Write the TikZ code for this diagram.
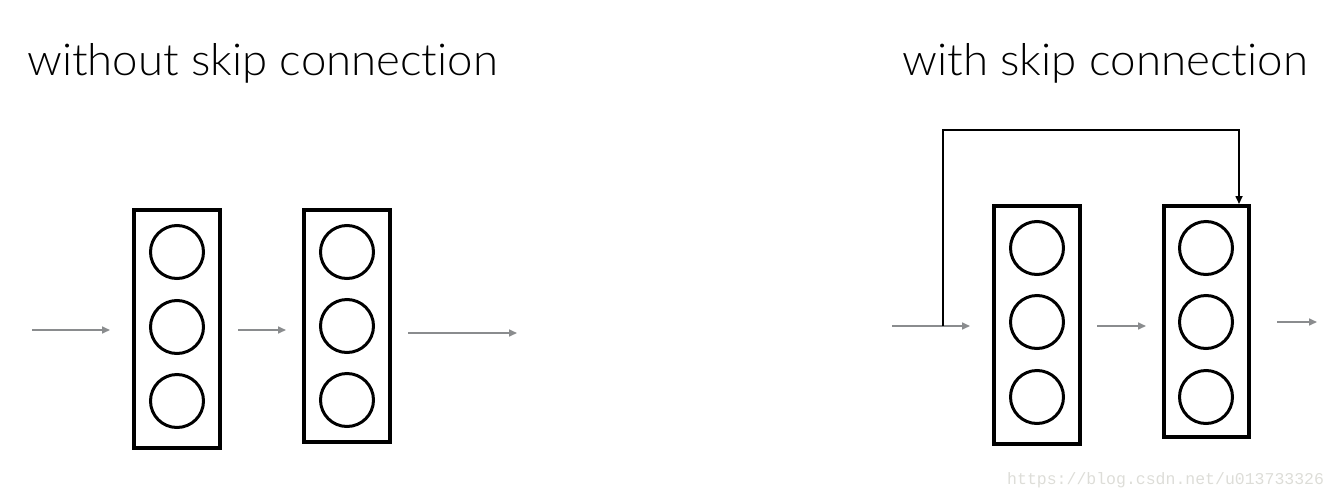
\documentclass[tikz,border=0pt]{standalone}
\usepackage{fontspec}
\setmainfont{Lato}[UprightFont=* Light, Ligatures=NoCommon]
\newfontfamily\wmfont{Liberation Mono}
\usetikzlibrary{arrows.meta}
\definecolor{arrgray}{HTML}{8A8C8E}
\definecolor{wmgray}{HTML}{DDDDD8}
\tikzset{
  layerbox/.style={draw=black, line width=4pt, minimum width=86pt, minimum height=238pt, inner sep=0pt},
  unit/.style={circle, draw=black, line width=3pt, minimum size=53pt, inner sep=0pt},
  flow/.style={draw=arrgray, line width=1.6pt, -{Triangle[length=8pt,width=7pt]}},
  skipline/.style={draw=black, line width=1.6pt, -{Triangle[length=8pt,width=7pt]}},
  title/.style={font=\fontsize{44}{44}\selectfont, anchor=base west, inner sep=0pt},
}
\begin{document}
\begin{tikzpicture}[x=1pt,y=-1pt]
\useasboundingbox (0,0) rectangle (1338,498);
% titles
\node[title] (t1) at (27,75) {\scalebox{1.035}[1]{without skip connection}};
\node[title] (t2) at (902,75) {\scalebox{1.038}[1]{with skip connection}};
% left network
\node[layerbox] (b1) at (177,329) {};
\node[layerbox, minimum height=232pt] (b2) at (347,326) {};
\node[unit] (c11) at (177,252) {};
\node[unit] (c12) at (177,327) {};
\node[unit] (c13) at (177,401) {};
\node[unit] (c21) at (347,252) {};
\node[unit] (c22) at (347,326) {};
\node[unit] (c23) at (347,400) {};
\coordinate (in1) at (32,330);
\coordinate (out1) at (517,333);
\draw[flow, shorten >=22pt] (in1) -- (in1 -| b1.west);
\draw[flow, shorten <=16pt, shorten >=16pt] (b1.east |- in1) -- (b2.west |- in1);
\draw[flow, shorten <=16pt] (b2.east |- out1) -- (out1);
% right network
\node[layerbox] (b3) at (1037,325) {};
\node[layerbox, minimum width=85pt, minimum height=231pt] (b4) at (1206.5,321.5) {};
\node[unit] (c31) at (1037,248) {};
\node[unit] (c32) at (1037,322) {};
\node[unit] (c33) at (1037,397) {};
\node[unit] (c41) at (1206,248) {};
\node[unit] (c42) at (1206,322) {};
\node[unit] (c43) at (1206,397) {};
\coordinate (in2) at (892,326);
\coordinate (fork) at (943,326);
\coordinate (top) at (1239,130);
\coordinate (out2) at (1317,322);
\draw[flow, shorten >=22pt] (in2) -- (in2 -| b3.west);
\draw[flow, shorten <=15pt, shorten >=16pt] (b3.east |- in2) -- (b4.west |- in2);
\draw[flow, shorten <=26pt] (b4.east |- out2) -- (out2);
\draw[skipline] (fork) |- (top) -- (top |- b4.north);
% watermark
\node[font=\wmfont\fontsize{16.5}{16.5}\selectfont, text=wmgray, anchor=base west, inner sep=0pt] (wm) at (1007,484) {https://blog.csdn.net/u013733326};
\end{tikzpicture}
\end{document}
